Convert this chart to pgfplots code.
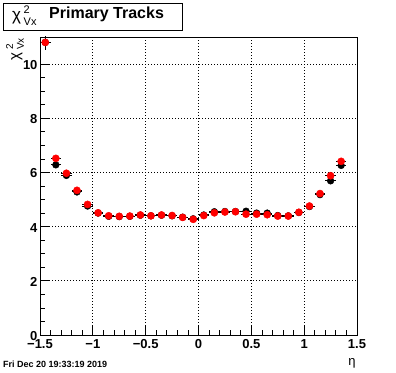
\documentclass[border=0pt]{standalone}
\usepackage{fontspec}
\setmainfont{Liberation Sans}
\usepackage{pgfplots}
\usepackage{pgfplotstable}
\pgfplotsset{compat=1.18}

\pgfplotstableread{
x y ex ey
-1.45 10.80 0.05 0.27
-1.35 6.28 0.05 0.06
-1.25 5.89 0.05 0.05
-1.15 5.28 0.05 0.04
-1.05 4.76 0.05 0.03
-0.95 4.50 0.05 0.03
-0.85 4.38 0.05 0.03
-0.75 4.37 0.05 0.03
-0.65 4.38 0.05 0.03
-0.55 4.42 0.05 0.03
-0.45 4.40 0.05 0.03
-0.35 4.42 0.05 0.03
-0.25 4.40 0.05 0.03
-0.15 4.35 0.05 0.03
-0.05 4.29 0.05 0.03
0.05 4.43 0.05 0.03
0.15 4.55 0.05 0.03
0.25 4.56 0.05 0.03
0.35 4.56 0.05 0.03
0.45 4.57 0.05 0.03
0.55 4.50 0.05 0.03
0.65 4.50 0.05 0.03
0.75 4.41 0.05 0.03
0.85 4.40 0.05 0.03
0.95 4.52 0.05 0.03
1.05 4.74 0.05 0.03
1.15 5.18 0.05 0.04
1.25 5.69 0.05 0.05
1.35 6.26 0.05 0.06
}\blacktab

\pgfplotstableread{
x y ex ey
-1.45 10.80 0.05 0.27
-1.35 6.52 0.05 0.06
-1.25 5.97 0.05 0.05
-1.15 5.34 0.05 0.04
-1.05 4.82 0.05 0.03
-0.95 4.51 0.05 0.03
-0.85 4.40 0.05 0.03
-0.75 4.38 0.05 0.03
-0.65 4.39 0.05 0.03
-0.55 4.43 0.05 0.03
-0.45 4.40 0.05 0.03
-0.35 4.43 0.05 0.03
-0.25 4.41 0.05 0.03
-0.15 4.34 0.05 0.03
-0.05 4.27 0.05 0.03
0.05 4.41 0.05 0.03
0.15 4.51 0.05 0.03
0.25 4.54 0.05 0.03
0.35 4.55 0.05 0.03
0.45 4.46 0.05 0.03
0.55 4.46 0.05 0.03
0.65 4.44 0.05 0.03
0.75 4.39 0.05 0.03
0.85 4.39 0.05 0.03
0.95 4.53 0.05 0.03
1.05 4.76 0.05 0.03
1.15 5.22 0.05 0.04
1.25 5.88 0.05 0.05
1.35 6.41 0.05 0.06
}\redtab

\newcommand\chivx[1]{χ\kern-0.5pt\makebox[0pt][l]{\raisebox{0.8ex}{#1 2}}\raisebox{-0.55ex}{#1 Vx}}

\begin{document}
\begin{tikzpicture}[x=1pt,y=1pt]
\useasboundingbox (0,0) rectangle (396,372);
\begin{axis}[at={(40pt,37pt)}, anchor=south west, scale only axis,
  width=317pt, height=298pt,
  xmin=-1.5, xmax=1.5, ymin=0, ymax=11,
  xtick={-1.5,-1,-0.5,0,0.5,1,1.5},
  xticklabels={−1.5,−1,−0.5,0,0.5,1,1.5},
  ytick={0,2,4,6,8,10},
  minor x tick num=4, minor y tick num=3,
  tick pos=left, tick align=inside,
  major tick length=9pt, minor tick length=4.5pt,
  grid=major, grid style={black, dash pattern=on 1pt off 2pt, line width=0.7pt},
  axis line style={line width=0.8pt},
  every tick/.style={black, line width=0.8pt},
  ticklabel style={font=\bfseries\fontsize{13}{13}\selectfont},
  /pgf/number format/assume math mode=true,
  xticklabel style={yshift=-1pt},
  yticklabel style={xshift=1pt, yshift=-1pt},
  clip=true,
]
\addplot[only marks, mark=*, mark size=3.4pt, black,
  error bars/.cd, x dir=both, x explicit, y dir=both, y explicit,
  error bar style={black, line width=1pt}, error mark=none]
  table[x=x, y=y, x error=ex, y error=ey]{\blacktab};
\addplot[only marks, mark=*, mark size=3.6pt, black,
  mark options={fill=red, draw=red},
  error bars/.cd, x dir=both, x explicit, y dir=both, y explicit,
  error bar style={black, line width=1pt}, error mark=none]
  table[x=x, y=y, x error=ex, y error=ey]{\redtab};
\end{axis}
\draw[line width=0.8pt] (3,342) rectangle (182,369);
\node[anchor=base west, inner sep=0pt, font=\fontsize{17}{17}\selectfont] at (12,351) {\chivx{\fontsize{11}{11}\selectfont}};
\node[anchor=base west, inner sep=0pt, font=\bfseries\fontsize{16}{16}\selectfont] at (49,353) {Primary Tracks};
\node[anchor=east, rotate=90, inner sep=0pt, font=\fontsize{15}{15}\selectfont] at (15,334) {\chivx{\fontsize{10}{10}\selectfont}};
\node[anchor=base, inner sep=0pt, font=\fontsize{13}{13}\selectfont] at (352,6) {η};
\node[anchor=base west, inner sep=0pt, font=\bfseries\fontsize{9}{9}\selectfont] at (3,5) {Fri Dec 20 19:33:19 2019};
\end{tikzpicture}
\end{document}
